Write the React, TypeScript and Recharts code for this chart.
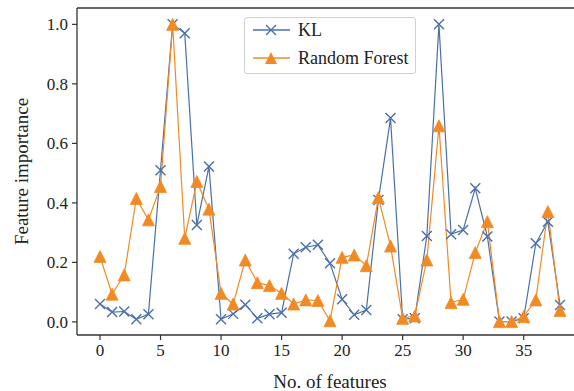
import React from 'react';
import { LineChart, Line, XAxis, YAxis, Legend, ReferenceLine } from 'recharts';

const featureIndex = [0,1,2,3,4,5,6,7,8,9,10,11,12,13,14,15,16,17,18,19,20,21,22,23,24,25,26,27,28,29,30,31,32,33,34,35,36,37,38];
const klValues = [0.06,0.033,0.035,0.009,0.026,0.51,1.0,0.97,0.326,0.522,0.009,0.027,0.058,0.012,0.026,0.031,0.229,0.251,0.259,0.197,0.076,0.024,0.04,0.41,0.685,0.009,0.012,0.289,1.0,0.295,0.309,0.449,0.287,0.001,0.001,0.012,0.264,0.337,0.057];
const rfValues = [0.22,0.093,0.158,0.415,0.343,0.455,1.0,0.281,0.472,0.379,0.096,0.06,0.208,0.132,0.122,0.096,0.06,0.074,0.072,0.004,0.217,0.225,0.189,0.418,0.255,0.012,0.02,0.208,0.659,0.065,0.076,0.233,0.337,0.001,0.001,0.018,0.074,0.371,0.038];
const xTicks = [0,5,10,15,20,25,30,35];
const yTicks = [0,0.2,0.4,0.6,0.8,1.0];
const seriesNames = ['KL', 'Random Forest'];

const X_DOMAIN = [-1.9, 39.9];
const Y_DOMAIN = [-0.044, 1.055];

const BLUE = '#4a70ab';
const ORANGE = '#f28a24';
const AXIS = '#333333';
const FONT = '"Liberation Serif", "DejaVu Serif", serif';

const data = featureIndex.map((f, i) => ({ f, kl: klValues[i], rf: rfValues[i] }));

const XDot = (props: any) => {
  const { cx, cy, index } = props;
  if (cx == null || cy == null) return <g key={index} />;
  const r = 5;
  return (
    <path key={index} d={`M${cx - r},${cy - r}L${cx + r},${cy + r}M${cx - r},${cy + r}L${cx + r},${cy - r}`}
      stroke={BLUE} strokeWidth={1.4} fill="none" />
  );
};

const TriDot = (props: any) => {
  const { cx, cy, index } = props;
  if (cx == null || cy == null) return <g key={index} />;
  const r = 6;
  return (
    <path key={index} d={`M${cx},${cy - r}L${cx - r},${cy + r}L${cx + r},${cy + r}Z`} fill={ORANGE} stroke={ORANGE} strokeWidth={0.8} />
  );
};

const LegendBox = () => (
  <div style={{ width: 172, height: 57, border: '1px solid #d0d0d0', borderRadius: 3, background: 'rgba(255,255,255,0.85)', boxSizing: 'border-box', position: 'relative', fontFamily: FONT, fontSize: 18, color: '#222' }}>
    {[0, 1].map((k) => (
      <div key={k} style={{ position: 'absolute', left: 0, top: k === 0 ? 0 : 28, height: 24, width: 170, display: 'flex', alignItems: 'center' }}>
        <svg width={50} height={24} style={{ display: 'block' }}>
          <line x1={8} x2={45} y1={12} y2={12} stroke={k === 0 ? BLUE : ORANGE} strokeWidth={1.3} />
          {k === 0
            ? <path d="M21,7L31,17M21,17L31,7" stroke={BLUE} strokeWidth={1.4} fill="none" />
            : <path d="M26,6L20,18L32,18Z" fill={ORANGE} />}
        </svg>
        <span style={{ marginLeft: 3, whiteSpace: 'nowrap', lineHeight: '24px' }}>{seriesNames[k]}</span>
      </div>
    ))}
  </div>
);

const YLabel = (props: any) => {
  const vb = props.viewBox || {};
  const cx = (vb.x || 0) + 21;
  const cy = (vb.y || 0) + (vb.height || 0) / 2;
  return (
    <text x={cx} y={cy} transform={`rotate(-90, ${cx}, ${cy})`} textAnchor="middle" dominantBaseline="central"
      fontFamily={FONT} fontSize={19} fill="#222">Feature importance</text>
  );
};

const XLabel = (props: any) => {
  const vb = props.viewBox || {};
  const cx = (vb.x || 0) + (vb.width || 0) / 2;
  const cy = 381;
  return (
    <text x={cx} y={cy} textAnchor="middle" dominantBaseline="central" fontFamily={FONT} fontSize={19} fill="#222">No. of features</text>
  );
};

export default function App() {
  return (
    <div style={{ position: 'absolute', left: 0, top: 0, width: 574, height: 391, overflow: 'hidden', background: '#fff' }}>
      <LineChart width={600} height={391} data={data} margin={{ top: 8, right: 17, bottom: 16, left: 0 }}>
        <XAxis dataKey="f" type="number" domain={X_DOMAIN} ticks={xTicks} allowDataOverflow
          height={40} tickSize={5} tickMargin={4} stroke={AXIS} strokeWidth={1.3}
          tick={{ fontFamily: FONT, fontSize: 17, fill: '#222' }}
          tickLine={{ stroke: AXIS, strokeWidth: 1.2 }}
          label={<XLabel />} />
        <YAxis type="number" domain={Y_DOMAIN} ticks={yTicks} allowDataOverflow
          width={77} tickSize={5} tickMargin={4} stroke={AXIS} strokeWidth={1.3}
          tickFormatter={(v: number) => v.toFixed(1)}
          tick={{ fontFamily: FONT, fontSize: 17, fill: '#222' }}
          tickLine={{ stroke: AXIS, strokeWidth: 1.2 }}
          label={<YLabel />} />
        <ReferenceLine y={Y_DOMAIN[1]} stroke={AXIS} strokeWidth={1.3} />
        <Line type="linear" dataKey="kl" name={seriesNames[0]} stroke={BLUE} strokeWidth={1.2} dot={<XDot />} activeDot={false} isAnimationActive={false} />
        <Line type="linear" dataKey="rf" name={seriesNames[1]} stroke={ORANGE} strokeWidth={1.2} dot={<TriDot />} activeDot={false} isAnimationActive={false} />
        <Legend layout="vertical" align="center" verticalAlign="middle" content={<LegendBox />}
          wrapperStyle={{ left: 244, top: 17, width: 172, height: 57 }} />
      </LineChart>
    </div>
  );
}
